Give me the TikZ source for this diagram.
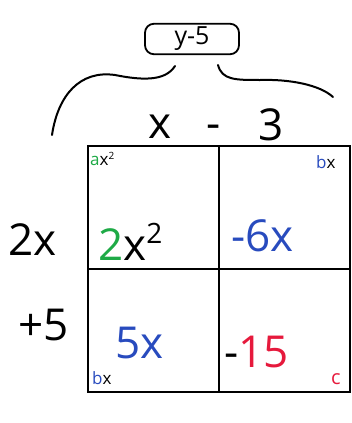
\documentclass[tikz,border=0pt]{standalone}
\usepackage{fontspec}
\setsansfont{Open Sans}
\usetikzlibrary{positioning}
\definecolor{boxgreen}{RGB}{30,170,70}
\definecolor{boxblue}{RGB}{40,75,190}
\definecolor{boxred}{RGB}{230,25,60}
\begin{document}
\begin{tikzpicture}[x=1pt,y=-1pt,font=\sffamily,
  cell/.style={draw,line width=1.6pt,minimum width=131pt,minimum height=123pt,inner sep=0pt,anchor=north west},
  big/.style={font=\sffamily\fontsize{44}{44}\selectfont,inner sep=0pt,anchor=base west},
  tag/.style={font=\sffamily\fontsize{17}{17}\selectfont,inner sep=0pt,anchor=base west},
  brace/.style={line width=2pt,line cap=round}]
  \useasboundingbox (0,0) rectangle (351,423);
  % the area grid
  \node[cell] (tl) at (87,145) {};
  \node[cell] (tr) at (218,145) {};
  \node[cell] (bl) at (87,268) {};
  \node[cell] (br) at (218,268) {};

  % factor on top, and what it splits into
  \node[draw,line width=1.8pt,rounded corners=9pt,minimum width=94pt,minimum height=29pt,
        font=\sffamily\fontsize{25}{25}\selectfont] (yfive) at (192,39) {y-5};
  \draw[brace] (52,135) .. controls (58,95) and (80,70) .. (115,75)
               .. controls (140,80) and (165,82) .. (175,66);
  \draw[brace] (218,65) .. controls (222,80) and (235,80) .. (260,80)
               .. controls (290,79) and (320,85) .. (333,97);
  \node[big] (xtop) at (148,138) {x};
  \node[big] (minus) at (206,138) {-};
  \node[big] (three) at (258,140) {3};

  % factor on the left
  \node[big] (twox) at (8,255) {2x};
  \node[big] (plusfive) at (18,340) {+5};

  % products
  \node[big] (sq) at (98,260) {\textcolor{boxgreen}{2}x\raisebox{17pt}{\fontsize{28}{28}\selectfont 2}};
  \node[big,text=boxblue] (sixx) at (231,251) {-6x};
  \node[big,text=boxblue] (fivex) at (115,358) {5x};
  \node[big] (fifteen) at (224,367) {-\textcolor{boxred}{15}};

  % corner tags
  \node[tag] (ax) at (90,165) {\textcolor{boxgreen}{a}x\raisebox{6pt}{\fontsize{10}{10}\selectfont 2}};
  \node[tag] (bxtop) at (316,168) {\textcolor{boxblue}{b}x};
  \node[tag] (bxlow) at (92,384) {\textcolor{boxblue}{b}x};
  \node[tag,text=boxred,font=\sffamily\fontsize{20}{20}\selectfont] (cc) at (331,384) {c};
\end{tikzpicture}
\end{document}
